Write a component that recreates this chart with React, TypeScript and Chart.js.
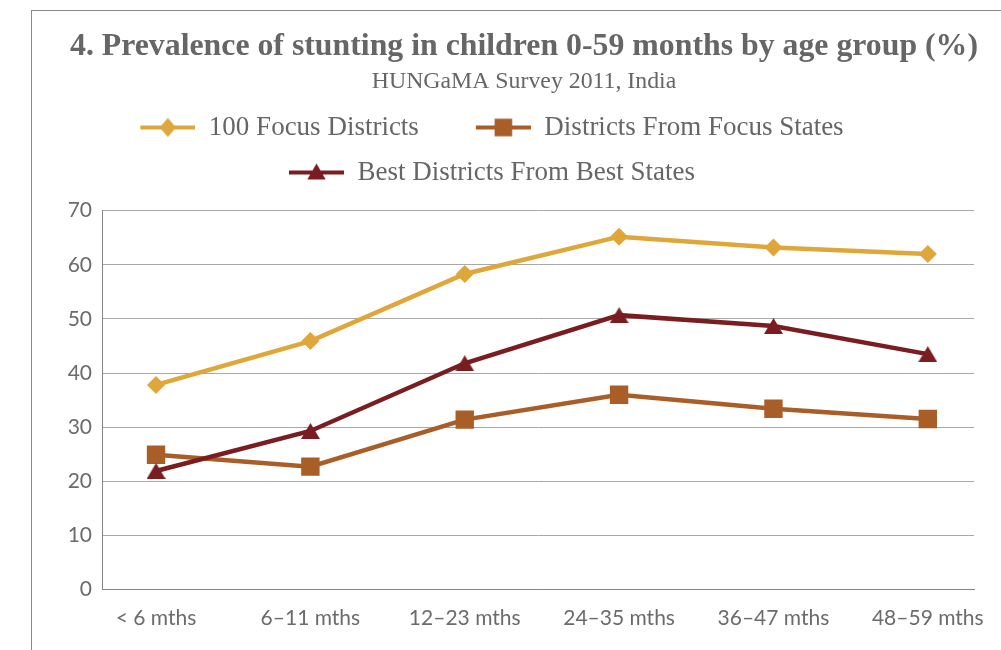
import React, { useEffect, useRef } from "react";
import { Chart, registerables } from "chart.js";

Chart.register(...registerables);

// ---------- data ----------
const categories = ["< 6 mths", "6–11 mths", "12–23 mths", "24–35 mths", "36–47 mths", "48–59 mths"];
const seriesNames = ["100 Focus Districts", "Districts From Focus States", "Best Districts From Best States"];
const focusDistricts = [37.8, 45.9, 58.3, 65.2, 63.2, 62.0];
const focusStateDistricts = [24.9, 22.7, 31.4, 36.0, 33.4, 31.5];
const bestStateDistricts = [21.9, 29.3, 41.8, 50.7, 48.7, 43.5];
const yTickValues = [0, 10, 20, 30, 40, 50, 60, 70];
const titleText = "4. Prevalence of stunting in children 0-59 months by age group (%)";
const subtitleText = "HUNGaMA Survey 2011, India";

// ---------- styles ----------
const YELLOW = "#DFA63A";
const ORANGE = "#A95D27";
const DARKRED = "#7A1D21";
const TEXT = "#666666";
const TICK = "#6b6b6b";
const GRID = "#a8a8a8";
const AXIS = "#858585";
const SERIF = "'Liberation Serif', 'Times New Roman', serif";
const SANS = "Lato, 'Open Sans', sans-serif";

const LEGEND_FONT = 27;
const LEGEND_PAD = 18;
const ICON_W = 94;
const LINE_W = 4.5;

function makeLegendIcon(color: string, shape: string) {
  const c = document.createElement("canvas");
  c.width = ICON_W;
  c.height = 24;
  const ctx = c.getContext("2d")!;
  const cy = 12;
  ctx.strokeStyle = color;
  ctx.lineWidth = 4;
  ctx.beginPath();
  ctx.moveTo(ICON_W - 55, cy);
  ctx.lineTo(ICON_W, cy);
  ctx.stroke();
  const cx = ICON_W - 27.5;
  ctx.fillStyle = color;
  ctx.beginPath();
  if (shape === "diamond") {
    ctx.moveTo(cx, cy - 9.5);
    ctx.lineTo(cx + 8.2, cy);
    ctx.lineTo(cx, cy + 9.5);
    ctx.lineTo(cx - 8.2, cy);
    ctx.closePath();
  } else if (shape === "square") {
    ctx.rect(cx - 8.8, cy - 8.8, 17.6, 17.6);
  } else {
    ctx.moveTo(cx, cy - 9);
    ctx.lineTo(cx + 9.2, cy + 7);
    ctx.lineTo(cx - 9.2, cy + 7);
    ctx.closePath();
  }
  ctx.fill();
  return c;
}

function makeTriangleMarker(color: string) {
  const c = document.createElement("canvas");
  c.width = 19;
  c.height = 16;
  const ctx = c.getContext("2d")!;
  ctx.fillStyle = color;
  ctx.beginPath();
  ctx.moveTo(9.5, 0);
  ctx.lineTo(19, 16);
  ctx.lineTo(0, 16);
  ctx.closePath();
  ctx.fill();
  return c;
}

// Places the top boxes: title / subtitle centred over x = 524, legend rows as in the reference.
const headerPlacer = {
  id: "headerPlacer",
  afterLayout(chart: any) {
    const lg = chart.legend;
    (chart.boxes || []).forEach((box: any) => {
      if (box === lg) {
        const dx = 472.5 - (box.left + box.right) / 2;
        const dy = 127.5 - LEGEND_PAD - LEGEND_FONT / 2 - box.top;
        box.left += dx;
        box.right += dx;
        box.top += dy;
        box.bottom += dy;
      } else if (box.position === "top" && !box.axis) {
        const dx = 524 - (box.left + box.right) / 2;
        box.left += dx;
        box.right += dx;
      }
    });
  },
};

export default function App() {
  const ref = useRef<HTMLCanvasElement | null>(null);

  useEffect(() => {
    if (!ref.current) return;
    const icons = [
      makeLegendIcon(YELLOW, "diamond"),
      makeLegendIcon(ORANGE, "square"),
      makeLegendIcon(DARKRED, "triangle"),
    ];
    const tri = makeTriangleMarker(DARKRED);
    const toPoints = (arr: number[]) => arr.map((v, i) => ({ x: i, y: v }));

    const chart = new Chart(ref.current, {
      type: "line",
      data: {
        datasets: [
          {
            label: seriesNames[0],
            data: toPoints(focusDistricts),
            borderColor: YELLOW,
            backgroundColor: YELLOW,
            borderWidth: LINE_W,
            pointStyle: "rectRot",
            pointRadius: 9,
            pointBackgroundColor: YELLOW,
            pointBorderWidth: 0,
            order: 3,
          },
          {
            label: seriesNames[1],
            data: toPoints(focusStateDistricts),
            borderColor: ORANGE,
            backgroundColor: ORANGE,
            borderWidth: LINE_W,
            pointStyle: "rect",
            pointRadius: 13,
            pointBackgroundColor: ORANGE,
            pointBorderWidth: 0,
            order: 2,
          },
          {
            label: seriesNames[2],
            data: toPoints(bestStateDistricts),
            borderColor: DARKRED,
            backgroundColor: DARKRED,
            borderWidth: LINE_W,
            pointStyle: tri as any,
            pointRadius: 10,
            pointBackgroundColor: DARKRED,
            pointBorderWidth: 0,
            order: 1,
          },
        ],
      },
      options: {
        responsive: false,
        animation: false,
        events: [],
        layout: { padding: { left: 52, right: 25, top: 0, bottom: 15.5 } },
        plugins: {
          title: {
            display: true,
            text: titleText,
            color: TEXT,
            font: { family: SERIF, size: 31.8, weight: "bold", lineHeight: 1.2 },
            padding: { top: 28, bottom: 0 },
          },
          subtitle: {
            display: true,
            text: subtitleText,
            color: TEXT,
            font: { family: SERIF, size: 23.8, lineHeight: 1.2 },
            padding: { top: 1.56, bottom: 14.42 },
          },
          legend: {
            display: true,
            position: "top",
            labels: {
              usePointStyle: true,
              pointStyleWidth: ICON_W,
              padding: LEGEND_PAD,
              color: TEXT,
              font: { family: SERIF, size: LEGEND_FONT },
              generateLabels: (c: any) =>
                c.data.datasets.map((ds: any, i: number) => ({
                  text: ds.label,
                  pointStyle: icons[i],
                  datasetIndex: i,
                  hidden: false,
                  fontColor: TEXT,
                  lineWidth: 0,
                  strokeStyle: "rgba(0,0,0,0)",
                  fillStyle: "rgba(0,0,0,0)",
                })),
            },
          },
          tooltip: { enabled: false },
        },
        scales: {
          x: {
            type: "linear",
            min: -0.35,
            max: 5.3,
            afterBuildTicks: (axis: any) => {
              axis.ticks = categories.map((_, i) => ({ value: i }));
            },
            afterFit: (s: any) => {
              s.height = 45;
            },
            grid: { display: false, drawTicks: false },
            border: { display: true, color: AXIS, width: 1 },
            ticks: {
              callback: (v: any) => categories[v as number] ?? "",
              font: { family: SANS, size: 21 },
              color: TICK,
              padding: 16,
              maxRotation: 0,
              autoSkip: false,
            },
          },
          y: {
            min: 0,
            max: 70,
            afterBuildTicks: (axis: any) => {
              axis.ticks = yTickValues.map((v) => ({ value: v }));
            },
            afterFit: (s: any) => {
              s.width = 50;
            },
            grid: { color: GRID, lineWidth: 1, drawTicks: false },
            border: { display: true, color: AXIS, width: 1 },
            ticks: {
              font: { family: SANS, size: 21 },
              color: TICK,
              padding: 10,
            },
          },
        },
      },
      plugins: [headerPlacer],
    } as any);

    return () => chart.destroy();
  }, []);

  return (
    <div style={{ position: "fixed", left: 0, top: 0, width: 1001, height: 650, overflow: "hidden", background: "#fff" }}>
      <div
        style={{
          position: "absolute",
          left: 31,
          top: 10,
          width: 1100,
          height: 800,
          borderTop: "1px solid #8a8a8a",
          borderLeft: "1px solid #8a8a8a",
        }}
      />
      <canvas
        ref={ref}
        width={1001}
        height={650}
        style={{ position: "absolute", left: 0, top: 0, width: 1001, height: 650 }}
      />
    </div>
  );
}
